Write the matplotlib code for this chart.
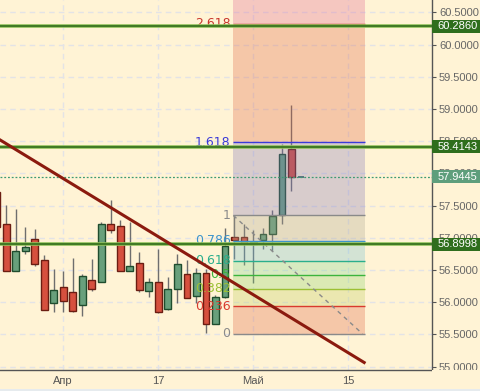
import numpy as np
import matplotlib
matplotlib.use("Agg")
import matplotlib.pyplot as plt
from matplotlib.patches import Rectangle
from matplotlib.transforms import blended_transform_factory

plt.rcParams['font.family'] = ['Liberation Sans', 'DejaVu Sans']

# daily candles, one per trading day
OPEN = [57.71, 57.21, 56.48, 56.79, 56.98, 56.65, 55.98, 56.23, 56.15, 55.95,
        56.35, 56.32, 57.21, 57.18, 56.48, 56.60, 56.18, 56.32, 55.89, 56.21,
        56.44, 56.10, 56.45, 55.66, 56.08, 57.01, 57.01, 56.91, 56.96, 57.05,
        57.35, 58.37, 57.9445]
HIGH = [57.75, 57.51, 57.45, 57.17, 57.14, 56.73, 56.51, 56.48, 56.68, 56.44,
        56.67, 57.24, 57.59, 57.28, 57.25, 56.78, 56.37, 56.82, 56.39, 56.74,
        56.65, 56.53, 56.51, 56.11, 57.15, 57.345, 57.22, 57.12, 57.15, 57.43,
        58.46, 59.06, 57.9445]
LOW = [57.10, 56.48, 56.48, 56.75, 56.56, 55.87, 55.85, 55.85, 55.85, 55.79,
       56.18, 56.32, 57.08, 56.48, 56.48, 56.16, 56.08, 55.83, 55.87, 55.99,
       56.06, 55.99, 55.525, 55.655, 56.07, 56.665, 56.57, 56.30, 56.82, 56.80,
       57.22, 57.72, 57.9445]
CLOSE = [57.17, 56.48, 56.79, 56.85, 56.59, 55.88, 56.19, 56.01, 55.86, 56.41,
         56.21, 57.21, 57.12, 56.48, 56.56, 56.19, 56.32, 55.84, 56.21, 56.59,
         56.07, 56.45, 55.66, 56.08, 56.87, 56.96, 56.92, 56.94, 57.05, 57.34,
         58.30, 57.94, 57.9445]

XTICK_POS = [7, 17, 27, 37]
XTICK_LABELS = ["Апр", "17", "Май", "15"]

# Fibonacci extension drawn from the swing
FIB_LOW, FIB_HIGH = 55.505, 57.345
FIB_X = [24.9, 38.8]
FIB_LEVELS = [0, 0.236, 0.382, 0.5, 0.618, 0.786, 1, 1.618, 2.618, 3.618]
FIB_LABELS = ["0", "0.236", "0.382", "0.5", "0.618", "0.786", "1", "1.618", "2.618", ""]
FIB_LINE_COLORS = ["#8a8a8a", "#d93a2e", "#9cc034", "#3cb43c", "#2aae8c",
                   "#3d94cc", "#8a8a8a", "#3a3ad8", "#c8352c", "#c8352c"]
FIB_BAND_COLORS = ["#de6441", "#c0ce5c", "#8ad569", "#7dd891", "#70bed4",
                   "#aca691", "#7f74b8", "#de6441", "#de6491"]

# manual levels and trend line
LEVELS = [60.2860, 58.4143, 56.8998]
LAST_PRICE = 57.9445
TREND_X = [-3, 38.8]
TREND_Y = [58.82, 55.05]

YTICKS = [55.0, 55.5, 56.0, 56.5, 57.0, 57.5, 58.0, 58.5, 59.0, 59.5, 60.0, 60.5]

BG = "#fff3d5"
W, H = 481, 391

fig = plt.figure(figsize=(W / 100, H / 100), dpi=100, facecolor=BG)
ax = fig.add_axes([0, 21 / H, 432 / W, 370 / H], facecolor=BG)
ax.set_xlim(0.34, 45.8)
ax.set_ylim(54.946, 60.691)

# grid
for y in YTICKS:
    ax.axhline(y, color="#e3e3e6", lw=1, dashes=(4, 3), zorder=0.5)
for x in XTICK_POS:
    ax.axvline(x, color="#e3e3e6", lw=1, dashes=(4, 3), zorder=0.5)

# candles
idx = np.arange(len(OPEN))
for i, o, h, l, c in zip(idx, OPEN, HIGH, LOW, CLOSE):
    up = c >= o
    ax.vlines(i, l, h, color="#6e6e6e", lw=1, zorder=2)
    if h == l:
        ax.hlines(o, i - 0.35, i + 0.35, color="#2f5e58", lw=1.2, zorder=3)
        continue
    ax.bar(i, abs(c - o), bottom=min(o, c), width=0.7,
           color="#68a07c" if up else "#d6503e",
           edgecolor="#1f4d2e" if up else "#6b1d12", lw=1, zorder=3)

# fib bands and lines
prices = [FIB_LOW + lv * (FIB_HIGH - FIB_LOW) for lv in FIB_LEVELS]
for k in range(len(prices) - 1):
    ax.fill_between(FIB_X, prices[k], prices[k + 1], color=FIB_BAND_COLORS[k],
                    alpha=0.3, lw=0, zorder=4)
for p, lab, col in zip(prices, FIB_LABELS, FIB_LINE_COLORS):
    if not lab:
        continue
    ax.hlines(p, FIB_X[0], FIB_X[1], color=col, lw=1, zorder=5)
    ax.text(FIB_X[0] - 0.3, p, lab, color=col, fontsize=9, ha="right",
            va="center", family="DejaVu Sans", zorder=6)
ax.plot([FIB_X[0], FIB_X[1] - 0.3], [FIB_HIGH, FIB_LOW], color="#8a8a8a",
        lw=1, dashes=(3, 3), zorder=5)

# trend line
ax.plot(TREND_X, TREND_Y, color="#8b1a0e", lw=2.2, solid_capstyle="butt", zorder=7)

# horizontal levels
for lv in LEVELS:
    ax.axhline(lv, color="#8fbf5a", lw=2.6, zorder=6)
    ax.axhline(lv, color="#3f7a24", lw=1.4, zorder=6)
ax.axhline(LAST_PRICE, color="#3d9a74", lw=0.9, dashes=(1.5, 1.5), zorder=6)

# axes styling
for s in ["left", "top"]:
    ax.spines[s].set_visible(False)
for s in ["right", "bottom"]:
    ax.spines[s].set_color("#555555")
    ax.spines[s].set_linewidth(1)
    ax.spines[s].set_zorder(8)
ax.yaxis.tick_right()
ax.set_yticks(YTICKS)
ax.set_yticklabels([f"{v:.4f}" for v in YTICKS])
ax.tick_params(axis="y", length=3, pad=2, color="#555555", labelsize=8,
               labelcolor="#666666")
ax.set_xticks(XTICK_POS)
ax.set_xticklabels(XTICK_LABELS)
ax.tick_params(axis="x", length=0, pad=4, labelsize=8, labelcolor="#555555")

# price tags on the right axis
tr = blended_transform_factory(ax.transAxes, ax.transData)
tags = [(v, "#2f6e1d") for v in LEVELS] + [(LAST_PRICE, "#5e9e7c")]
for v, col in tags:
    ax.add_patch(Rectangle((1.0, v - 0.1), 0.12, 0.2, transform=tr,
                           facecolor=col, edgecolor="none", clip_on=False, zorder=9))
    ax.text(1.012, v, f"{v:.4f}", transform=tr, color="white", fontsize=8,
            ha="left", va="center", zorder=10, clip_on=False)

# time axis pane covers the lower price label, bottom strip
fig.add_artist(Rectangle((432 / W, 2 / H), 49 / W, 19 / H, transform=fig.transFigure,
                         facecolor=BG, edgecolor="none", zorder=5))
fig.add_artist(Rectangle((0, 0), 1, 2.5 / H, transform=fig.transFigure,
                         facecolor="#e6ebee", edgecolor="none", zorder=5))

fig.savefig("out.png", dpi=100, facecolor=BG)
